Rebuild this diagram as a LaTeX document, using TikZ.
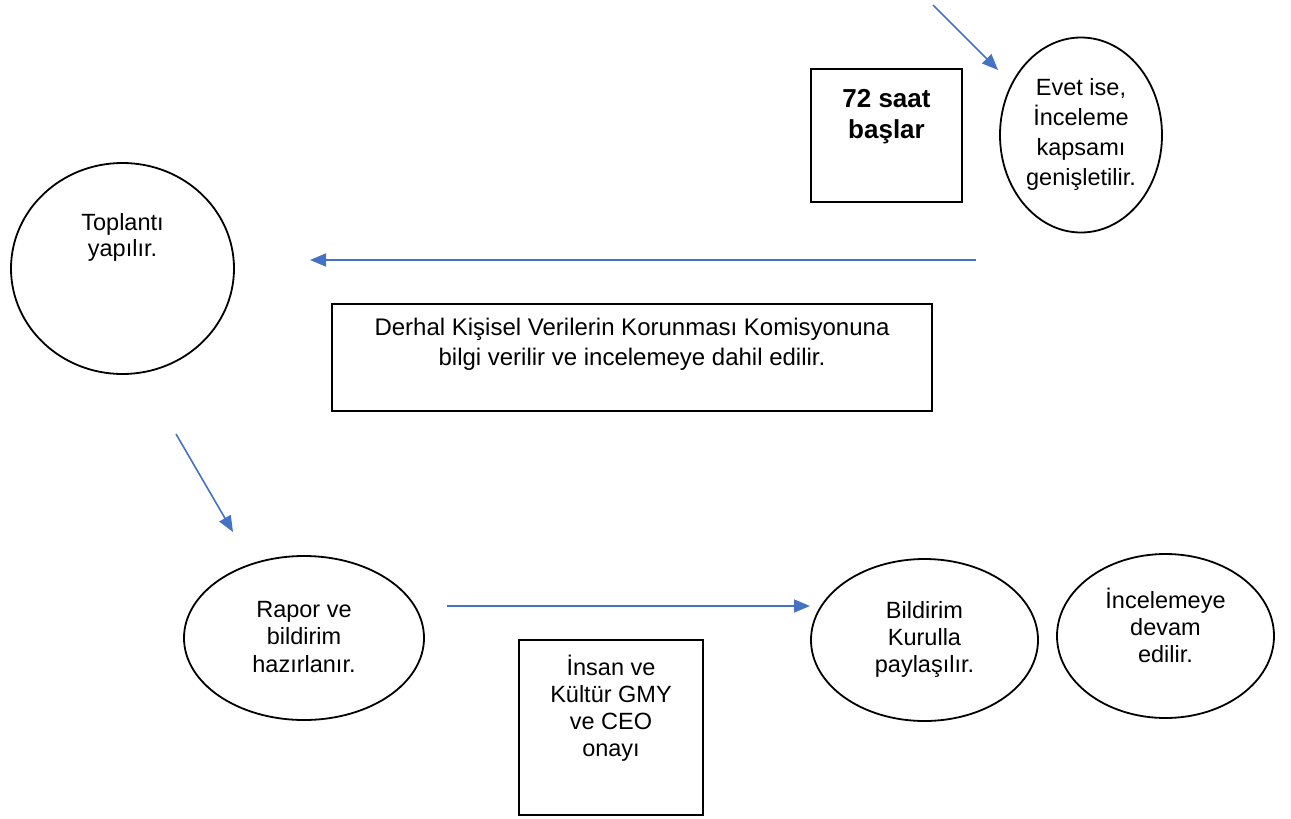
\documentclass[tikz,border=0pt]{standalone}
\usepackage{fontspec}
\setmainfont{Liberation Sans}
\usetikzlibrary{shapes.geometric,arrows.meta}
\definecolor{arrowblue}{RGB}{68,114,196}
\tikzset{
  oval/.style={ellipse, draw=black, line width=1.8pt, inner sep=0pt},
  boxnode/.style={rectangle, draw=black, line width=1.8pt, inner sep=0pt},
  txt/.style={align=center, font=\fontsize{23.5}{27}\selectfont, inner sep=0pt, anchor=north},
  widetxt/.style={txt, font=\fontsize{23.5}{30}\selectfont},
  flow/.style={draw=arrowblue, line width=1.6pt, -{Triangle[length=16pt,width=13pt]}}
}
\begin{document}
\begin{tikzpicture}[x=1pt,y=-1pt]
\useasboundingbox (0,0) rectangle (1291,819);
% shapes
\node[oval, minimum width=162pt, minimum height=195pt] (evet) at (1081,135) {};
\node[widetxt] (evett) at (1081,78) {Evet ise,\\İnceleme\\kapsamı\\genişletilir.};
\node[boxnode, minimum width=151pt, minimum height=133pt] (saat) at (886.5,135.5) {};
\node[txt, font=\fontsize{26}{31}\selectfont\bfseries] (saatt) at (886.5,89) {72 saat\\başlar};
\node[oval, minimum width=223pt, minimum height=211pt] (toplanti) at (122.5,268.5) {};
\node[txt, font=\fontsize{23.5}{26}\selectfont] (toplantit) at (122.5,213) {Toplantı\\yapılır.};
\node[boxnode, minimum width=600pt, minimum height=107pt] (derhal) at (632,357.5) {};
\node[widetxt, font=\fontsize{24}{30}\selectfont] (derhalt) at (632,318) {Derhal Kişisel Verilerin Korunması Komisyonuna\\bilgi verilir ve incelemeye dahil edilir.};
\node[oval, minimum width=240pt, minimum height=164pt] (rapor) at (304,638) {};
\node[txt, font=\fontsize{23.5}{27.5}\selectfont] (rapordt) at (304,601) {Rapor ve\\bildirim\\hazırlanır.};
\node[boxnode, minimum width=184pt, minimum height=175pt] (onay) at (611,727.5) {};
\node[txt] (onayt) at (611,655) {İnsan ve\\Kültür GMY\\ve CEO\\onayı};
\node[oval, minimum width=227pt, minimum height=162pt] (bildirim) at (924.5,640) {};
\node[txt] (bildirimt) at (924.5,601) {Bildirim\\Kurulla\\paylaşılır.};
\node[oval, minimum width=217pt, minimum height=164pt] (devam) at (1165.5,636) {};
\node[txt] (devamt) at (1165.5,588) {İncelemeye\\devam\\edilir.};
% arrow end points
\coordinate (a1s) at (933,5);
\coordinate (a1e) at (998,70);
\coordinate (a2s) at (976,260);
\coordinate (a2e) at (310,260);
\coordinate (a3s) at (176,434);
\coordinate (a3e) at (233,532);
\coordinate (a4s) at (447,606);
\coordinate (a4e) at (810,606);
\draw[flow] (a1s) -- (a1e);
\draw[flow] (a2s) -- (a2e);
\draw[flow] (a3s) -- (a3e);
\draw[flow] (a4s) -- (a4e);
\end{tikzpicture}
\end{document}
